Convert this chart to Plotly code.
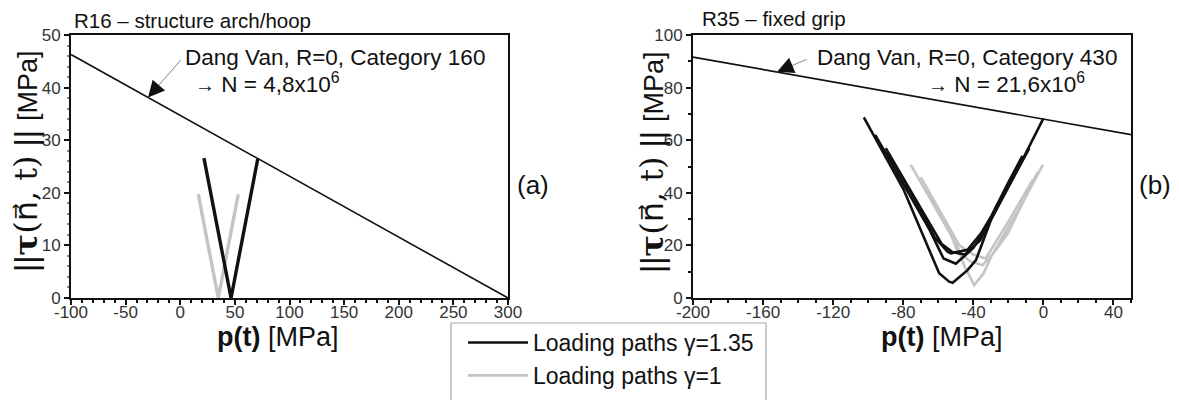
import plotly.graph_objects as go

# ---------------- data ----------------
# (a) R16 - structure arch/hoop
dv_a_p = [-100, 300]
dv_a_tau = [46.3, 0.0]
lp135_a_p = [21.7, 46.5, 70.9]
lp135_a_tau = [26.6, 0.0, 26.4]
lp1_a_p = [16.5, 34.8, 53.1]
lp1_a_tau = [19.7, 0.0, 19.7]

# (b) R35 - fixed grip
dv_b_p = [-200, 50]
dv_b_tau = [91.6, 62.1]
lp135_b_p = [-102.5, -80, -59.5, -53.8, -51.8, -43.3, -38.5, -29.9, -15, 0.0, None,
             -89.1, -75, -62.0, -54.7, -52.8, -43.3, -35.6, -29.9, -20, -12.0, None,
             -96.0, -80, -65.0, -57.0, -50.0, -40.0, -30.0, -8.0, None,
             -90.0, -70, -58.0, -52.0, -45.0, -36.0, -26.0]
lp135_b_tau = [68.7, 41.5, 9.4, 6.2, 5.8, 10.6, 14.4, 29.7, 48.5, 68.3, None,
               55.6, 39.5, 23.0, 17.6, 17.0, 18.3, 24.6, 30.9, 44.0, 54.0, None,
               62.0, 43.5, 26.0, 15.0, 13.0, 19.0, 30.0, 57.0, None,
               57.0, 34.0, 20.5, 17.5, 16.5, 22.0, 36.0]
lp1_b_p = [-75.7, -60, -49.0, -45.0, -39.5, -34.0, -29.9, -15, -0.3, None,
           -66.2, -55, -49.4, -42.0, -34.7, -28.0, -20.3, -3.2, None,
           -70.0, -55.0, -48.0, -40.0, -33.0, -20.0, -6.0]
lp1_b_tau = [50.6, 32.0, 19.5, 12.0, 4.9, 9.5, 15.7, 32.5, 50.6, None,
             41.1, 28.0, 18.3, 14.0, 12.5, 17.5, 24.6, 48.0, None,
             46.0, 28.0, 20.0, 16.5, 15.0, 29.0, 45.0]

xa_ticks = [-100, -50, 0, 50, 100, 150, 200, 250, 300]
xa_text = ["-100", "-50", "0", "50", "100", "150", "200", "250", "300"]
ya_ticks = [0, 10, 20, 30, 40, 50]
ya_text = ["0", "10", "20", "30", "40", "50"]
xb_ticks = [-200, -160, -120, -80, -40, 0, 40]
xb_text = ["-200", "-160", "-120", "-80", "-40", "0", "40"]
yb_ticks = [0, 20, 40, 60, 80, 100]
yb_text = ["0", "20", "40", "60", "80", "100"]

FONT = "Liberation Sans"
BLACK = "#111111"
GRAY = "#c4c4c4"
W, H = 1179, 400
OFF = 8  # page body margin


def px(x):
    return (x - OFF) / W


def py(y):
    return 1 - (y - OFF) / H


fig = go.Figure()

# loading paths (gray first so black on top)
fig.add_trace(go.Scatter(x=lp1_a_p, y=lp1_a_tau, mode="lines", line=dict(color=GRAY, width=3.4),
                         name="Loading paths γ=1", legendgroup="g1", showlegend=False,
                         xaxis="x", yaxis="y"))
fig.add_trace(go.Scatter(x=lp135_a_p, y=lp135_a_tau, mode="lines", line=dict(color=BLACK, width=3.4),
                         name="Loading paths γ=1.35", legendgroup="g135", showlegend=False,
                         xaxis="x", yaxis="y"))
fig.add_trace(go.Scatter(x=lp1_b_p, y=lp1_b_tau, mode="lines", line=dict(color=GRAY, width=2.6),
                         name="Loading paths γ=1", legendgroup="g1", showlegend=True, legendrank=2,
                         xaxis="x2", yaxis="y2"))
fig.add_trace(go.Scatter(x=lp135_b_p, y=lp135_b_tau, mode="lines", line=dict(color=BLACK, width=2.6),
                         name="Loading paths γ=1.35", legendgroup="g135", showlegend=True, legendrank=1,
                         xaxis="x2", yaxis="y2"))
# Dang Van lines
fig.add_trace(go.Scatter(x=dv_a_p, y=dv_a_tau, mode="lines", line=dict(color=BLACK, width=1.6),
                         showlegend=False, xaxis="x", yaxis="y"))
fig.add_trace(go.Scatter(x=dv_b_p, y=dv_b_tau, mode="lines", line=dict(color=BLACK, width=1.6),
                         showlegend=False, xaxis="x2", yaxis="y2"))

axis_common = dict(showgrid=False, zeroline=False, showline=True, linecolor=BLACK, linewidth=1.8,
                   mirror=True, ticks="outside", ticklen=5, tickcolor=BLACK, tickwidth=1.5,
                   automargin=False,
                   tickfont=dict(family=FONT, size=17, color="#333333"))

fig.update_layout(
    width=W, height=H,
    margin=dict(l=0, r=0, t=0, b=0, autoexpand=False),
    paper_bgcolor="white", plot_bgcolor="white",
    font=dict(family=FONT, color=BLACK),
    xaxis=dict(domain=[px(71), px(508)], range=[-100, 300], anchor="y",
               tickvals=xa_ticks, ticktext=xa_text, ticklabelstandoff=-7,
               minor=dict(dtick=10, ticks="outside", ticklen=3, tickcolor=BLACK), **axis_common),
    yaxis=dict(domain=[py(298), py(35)], range=[0, 50], anchor="x",
               tickvals=ya_ticks, ticktext=ya_text, ticklabelstandoff=0,
               minor=dict(dtick=2, ticks="outside", ticklen=2, tickcolor="#888888"), **axis_common),
    xaxis2=dict(domain=[px(693), px(1131)], range=[-200, 50], anchor="y2",
                tickvals=xb_ticks, ticktext=xb_text, ticklabelstandoff=-7,
                minor=dict(dtick=10, ticks="outside", ticklen=3, tickcolor=BLACK), **axis_common),
    yaxis2=dict(domain=[py(298), py(35)], range=[0, 100], anchor="x2",
                tickvals=yb_ticks, ticktext=yb_text, ticklabelstandoff=0,
                minor=dict(dtick=10, ticks="outside", ticklen=3, tickcolor=BLACK), **axis_common),
    legend=dict(x=px(463), y=py(321), xanchor="left", yanchor="top",
                borderwidth=0, bgcolor="rgba(0,0,0,0)",
                font=dict(family=FONT, size=23, color=BLACK), itemwidth=60,
                traceorder="normal", tracegroupgap=12),
    shapes=[dict(type="rect", xref="paper", yref="paper", x0=px(451), x1=px(766),
                 y0=py(420), y1=py(323), line=dict(color="#aaaaaa", width=1.2),
                 fillcolor="rgba(0,0,0,0)", layer="below")],
)

ann = []


def text_ann(x, y, text, size, xanchor="left", angle=0):
    ann.append(dict(xref="paper", yref="paper", x=px(x), y=py(y), text=text, showarrow=False,
                    xanchor=xanchor, yanchor="middle", textangle=angle,
                    font=dict(family=FONT, size=size, color=BLACK)))


text_ann(72, 20, "R16 – structure arch/hoop", 20.5)
text_ann(700, 19, "R35 – fixed grip", 20.5)
text_ann(183, 57, "Dang Van, R=0, Category 160", 22.5)
text_ann(193, 83, "<span style='font-size:20px'>→</span> N = 4,8x10<sup>6</sup>", 22.5)
text_ann(815, 57, "Dang Van, R=0, Category 430", 22.5)
text_ann(926, 83, "<span style='font-size:20px'>→</span> N = 21,6x10<sup>6</sup>", 22.5)
text_ann(533, 185, "(a)", 26, xanchor="center")
text_ann(1155, 185, "(b)", 26, xanchor="center")
text_ann(278, 337, "<b>p(t)</b> [MPa]", 27, xanchor="center")
text_ann(942, 337, "<b>p(t)</b> [MPa]", 27, xanchor="center")

ytitle = ("||<span style='font-family:DejaVu Serif'><b>τ</b>(</span>"
          "<span style='font-family:DejaVu Sans'>n\u20d7</span>"
          "<span style='font-family:DejaVu Serif'>, t)</span> ||"
          " <span style='font-size:27px'>[MPa]</span>")
text_ann(26, 161, ytitle, 32, xanchor="center", angle=-90)
text_ann(652, 162, ytitle, 32, xanchor="center", angle=-90)

# arrows: thin gray shaft + black head
for xr, yr, x, y, ax, ay in [("x", "y", -29.5, 38.1, 34, -39), ("x2", "y2", -152, 86.0, 31, -13)]:
    ann.append(dict(xref=xr, yref=yr, x=x, y=y, ax=ax, ay=ay, text="", showarrow=True,
                    arrowhead=0, arrowwidth=1, arrowcolor="#888888", standoff=0))
    ann.append(dict(xref=xr, yref=yr, x=x, y=y, ax=ax * 0.3, ay=ay * 0.3, text="", showarrow=True,
                    arrowhead=2, arrowsize=2.2, arrowwidth=1.5, arrowcolor=BLACK, standoff=0))

fig.update_layout(annotations=ann)
fig.write_html("out.html")
